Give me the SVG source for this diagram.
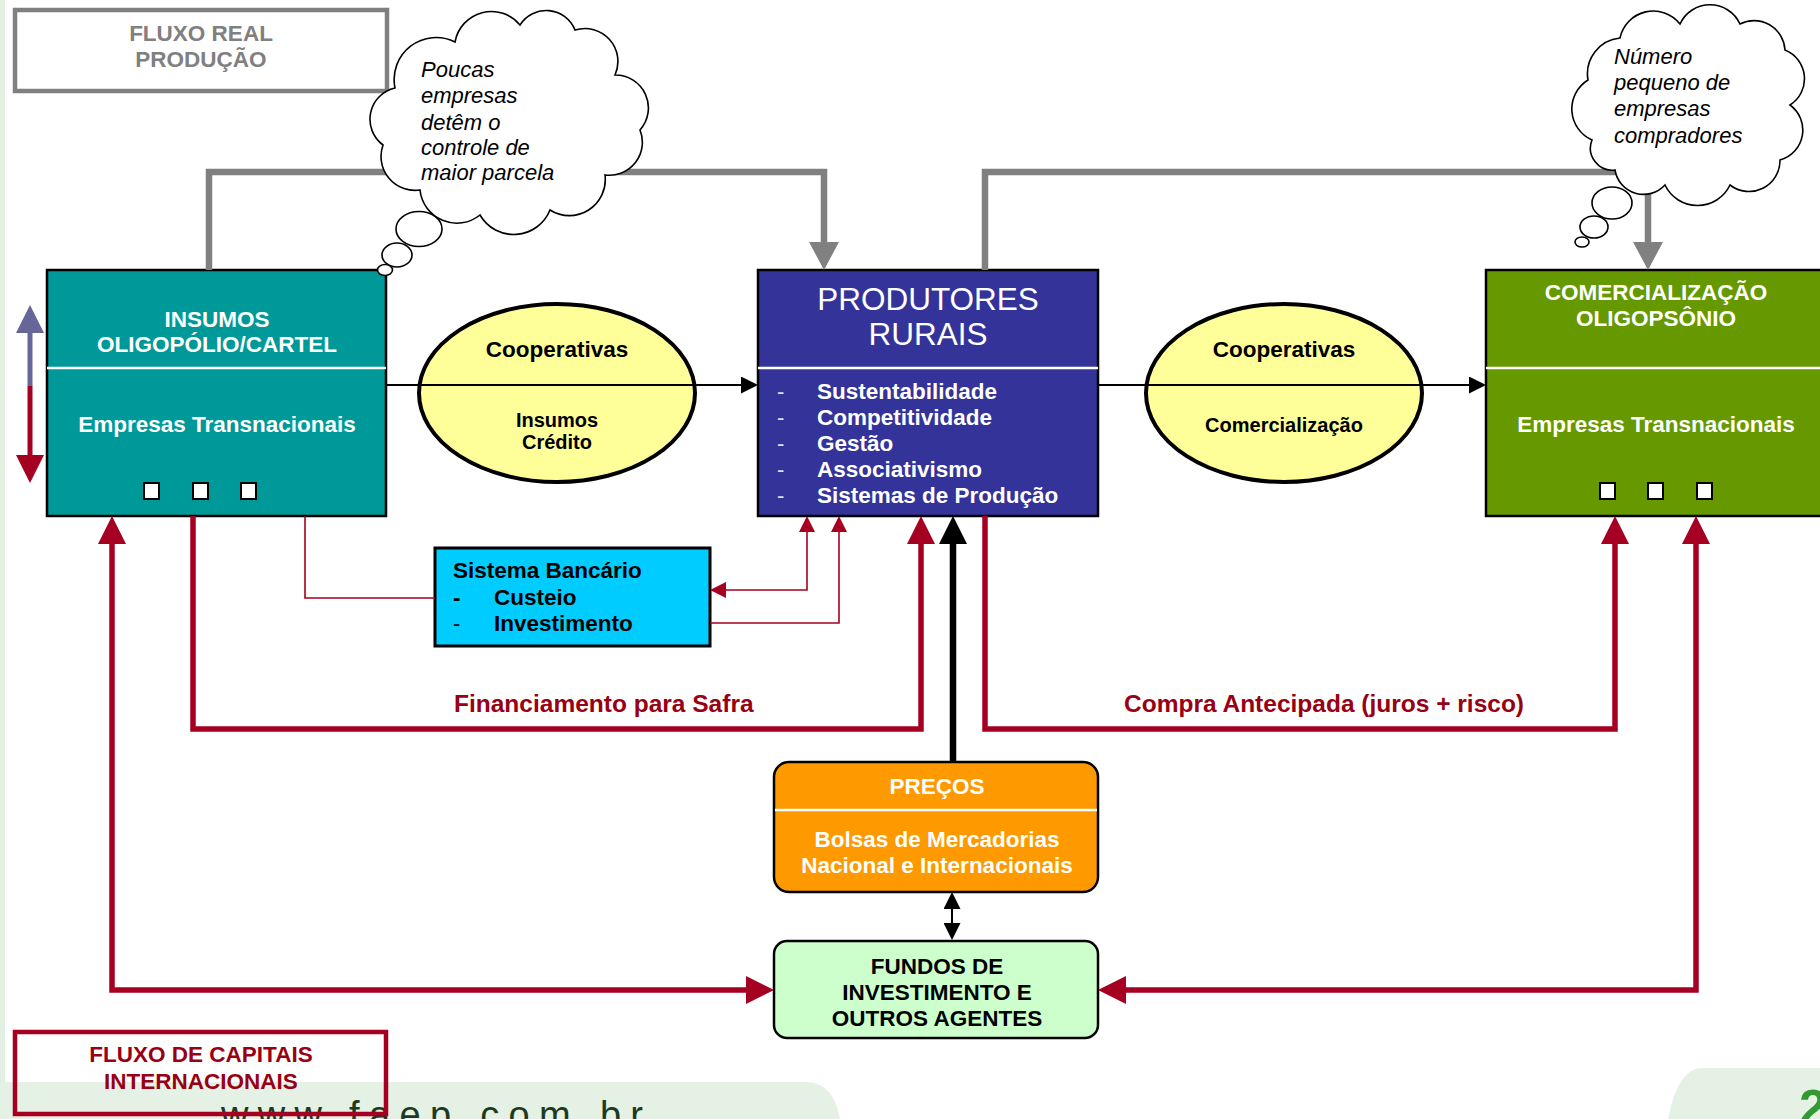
<svg xmlns="http://www.w3.org/2000/svg" width="1820" height="1119" viewBox="0 0 1820 1119">
<style>
text{font-family:"Liberation Sans",Arial,sans-serif;}
.b{font-weight:bold;font-size:22.5px;}
.w{fill:#ffffff;}
.k{fill:#000000;}
.c{text-anchor:middle;}
.box{stroke:#000;stroke-width:2.5;}
.div{stroke:#fff;stroke-width:2.5;}
.sq{fill:#fff;stroke:#000;stroke-width:2;}
.cloud{fill:#fff;stroke:#000;stroke-width:1.6;}
.ct{font-style:italic;font-size:22px;fill:#000;}
.gray{fill:none;stroke:#808080;stroke-width:6.5;}
.redT{fill:none;stroke:#A50021;stroke-width:5.5;}
.redt{fill:none;stroke:#A50021;stroke-width:1.6;}
.blkT{fill:none;stroke:#000;stroke-width:6.5;}
.blkt{fill:none;stroke:#000;stroke-width:2;}
.lbl{font-weight:bold;font-size:24.5px;fill:#990012;}
</style>
<defs>
<marker id="mGray" viewBox="0 0 28 30" refX="0" refY="15" markerWidth="28" markerHeight="30" markerUnits="userSpaceOnUse" orient="auto"><path d="M0,0 L28,15 L0,30 Z" fill="#808080"/></marker>
<marker id="mRed" viewBox="0 0 28 28" refX="0" refY="14" markerWidth="28" markerHeight="28" markerUnits="userSpaceOnUse" orient="auto-start-reverse"><path d="M0,0 L28,14 L0,28 Z" fill="#A50021"/></marker>
<marker id="mBlue" viewBox="0 0 28 28" refX="0" refY="14" markerWidth="28" markerHeight="28" markerUnits="userSpaceOnUse" orient="auto"><path d="M0,0 L28,14 L0,28 Z" fill="#666699"/></marker>
<marker id="mBlack" viewBox="0 0 28 28" refX="0" refY="14" markerWidth="28" markerHeight="28" markerUnits="userSpaceOnUse" orient="auto"><path d="M0,0 L28,14 L0,28 Z" fill="#000"/></marker>
<marker id="mRedS" viewBox="0 0 16 16" refX="0" refY="8" markerWidth="16" markerHeight="16" markerUnits="userSpaceOnUse" orient="auto-start-reverse"><path d="M0,0 L16,8 L0,16 Z" fill="#A50021"/></marker>
<marker id="mBlackS" viewBox="0 0 17 17" refX="0" refY="8.5" markerWidth="17" markerHeight="17" markerUnits="userSpaceOnUse" orient="auto-start-reverse"><path d="M0,0 L17,8.5 L0,17 Z" fill="#000"/></marker>
</defs>

<rect x="0" y="0" width="1820" height="1119" fill="#ffffff"/>
<g id="background">
<rect x="0" y="0" width="5" height="1119" fill="#E3EFE3"/>
<path d="M0,1082 H805 Q834,1082 840,1119 H0 Z" fill="#E4F1E4"/>
<path d="M1702,1068 H1820 V1119 H1668 Q1678,1068 1702,1068 Z" fill="#E4F1E4"/>
<text x="221" y="1128" font-family="DejaVu Sans,sans-serif" font-size="38" fill="#1E3A1E" textLength="422" lengthAdjust="spacing">www.faep.com.br</text>
<text x="1799" y="1125" font-size="50" font-weight="bold" fill="#339933">2</text>
</g>

<g id="fluxo-real">
<rect x="15" y="10" width="372" height="81" fill="none" stroke="#808080" stroke-width="4.5"/>
<text class="b c" x="201" y="41" fill="#808080">FLUXO REAL</text>
<text class="b c" x="201" y="67" fill="#808080">PRODUÇÃO</text>
</g>

<g id="insumos">
<rect class="box" x="47" y="270" width="339" height="246" fill="#009999"/>
<line class="div" x1="47" y1="368" x2="386" y2="368"/>
<text class="b w c" x="217" y="327">INSUMOS</text>
<text class="b w c" x="217" y="352">OLIGOPÓLIO/CARTEL</text>
<text class="b w c" x="217" y="432">Empresas Transnacionais</text>
<rect class="sq" x="144" y="483" width="15" height="16"/>
<rect class="sq" x="193" y="483" width="15" height="16"/>
<rect class="sq" x="241" y="483" width="15" height="16"/>
</g>

<g id="coop-insumos">
<ellipse cx="557" cy="393" rx="138" ry="89" fill="#FFFF99" stroke="#000" stroke-width="4"/>
<text class="b k c" x="557" y="357">Cooperativas</text>
<text class="k c" x="557" y="427" font-weight="bold" font-size="20">Insumos</text>
<text class="k c" x="557" y="449" font-weight="bold" font-size="20">Crédito</text>
</g>

<g id="produtores">
<rect class="box" x="758" y="270" width="340" height="246" fill="#333399"/>
<line class="div" x1="758" y1="368" x2="1098" y2="368"/>
<text class="w c" x="928" y="310" font-size="31.5">PRODUTORES</text>
<text class="w c" x="928" y="345" font-size="31.5">RURAIS</text>
<g font-size="22" fill="#e0e0e0"><text x="777" y="399">-</text><text x="777" y="425">-</text><text x="777" y="451">-</text><text x="777" y="477">-</text><text x="777" y="503">-</text></g>
<text class="b w" x="817" y="399">Sustentabilidade</text>
<text class="b w" x="817" y="425">Competitividade</text>
<text class="b w" x="817" y="451">Gestão</text>
<text class="b w" x="817" y="477">Associativismo</text>
<text class="b w" x="817" y="503">Sistemas de Produção</text>
</g>

<g id="coop-comercializacao">
<ellipse cx="1284" cy="393" rx="138" ry="89" fill="#FFFF99" stroke="#000" stroke-width="4"/>
<text class="b k c" x="1284" y="357">Cooperativas</text>
<text class="k c" x="1284" y="432" font-weight="bold" font-size="20">Comercialização</text>
</g>

<g id="comercializacao">
<rect class="box" x="1486" y="270" width="345" height="246" fill="#669900"/>
<line class="div" x1="1486" y1="368" x2="1820" y2="368"/>
<text class="b w c" x="1656" y="300">COMERCIALIZAÇÃO</text>
<text class="b w c" x="1656" y="326">OLIGOPSÔNIO</text>
<text class="b w c" x="1656" y="432">Empresas Transnacionais</text>
<rect class="sq" x="1600" y="483" width="15" height="16"/>
<rect class="sq" x="1648" y="483" width="15" height="16"/>
<rect class="sq" x="1697" y="483" width="15" height="16"/>
</g>

<g id="sistema-bancario">
<rect x="435" y="548" width="275" height="98" fill="#00CCFF" stroke="#000" stroke-width="3"/>
<text class="b k" x="453" y="578">Sistema Bancário</text>
<text class="b k" x="453" y="605">-</text>
<text class="b k" x="494" y="605">Custeio</text>
<text class="k" x="453" y="631" font-size="22">-</text>
<text class="b k" x="494" y="631">Investimento</text>
</g>

<g id="precos">
<rect class="box" x="774" y="762" width="324" height="130" rx="15" fill="#FF9900" stroke-width="2"/>
<line class="div" x1="775" y1="810" x2="1097" y2="810"/>
<text class="b w c" x="937" y="794">PREÇOS</text>
<text class="b w c" x="937" y="847">Bolsas de Mercadorias</text>
<text class="b w c" x="937" y="873">Nacional e Internacionais</text>
</g>

<g id="fundos">
<rect class="box" x="774" y="941" width="324" height="97" rx="13" fill="#CCFFCC" stroke-width="2"/>
<text class="b k c" x="937" y="974">FUNDOS DE</text>
<text class="b k c" x="937" y="1000">INVESTIMENTO E</text>
<text class="b k c" x="937" y="1026">OUTROS AGENTES</text>
</g>

<g id="fluxo-capitais">
<rect x="15" y="1032" width="371" height="82" fill="none" stroke="#A50021" stroke-width="4.5"/>
<text class="b c" x="201" y="1062" fill="#990012">FLUXO DE CAPITAIS</text>
<text class="b c" x="201" y="1089" fill="#990012">INTERNACIONAIS</text>
</g>

<g id="connectors">
<path class="gray" d="M209,270 V172 H824 V242" marker-end="url(#mGray)"/>
<path class="gray" d="M985,270 V172 H1648 V242" marker-end="url(#mGray)"/>
<path class="blkt" d="M387,385 H741" marker-end="url(#mBlackS)"/>
<path class="blkt" d="M1098,385 H1469" marker-end="url(#mBlackS)"/>
<path d="M30,386 V333" fill="none" stroke="#666699" stroke-width="5" marker-end="url(#mBlue)"/>
<path d="M30,386 V455" fill="none" stroke="#A50021" stroke-width="5" marker-end="url(#mRed)"/>
<path class="redt" d="M305,516 V598 H435"/>
<path class="redt" d="M807,532 V590 H726" marker-start="url(#mRedS)" marker-end="url(#mRedS)"/>
<path class="redt" d="M710,623 H839 V532" marker-end="url(#mRedS)"/>
<path class="redT" d="M193,516 V729 H921 V544" marker-end="url(#mRed)"/>
<path class="redT" d="M985,516 V729 H1615 V544" marker-end="url(#mRed)"/>
<path class="blkT" d="M953,762 V544" marker-end="url(#mBlack)"/>
<path class="blkt" d="M952,909 V923" marker-start="url(#mBlackS)" marker-end="url(#mBlackS)"/>
<path class="redT" d="M112,544 V990 H746" marker-start="url(#mRed)" marker-end="url(#mRed)"/>
<path class="redT" d="M1696,544 V990 H1126" marker-start="url(#mRed)" marker-end="url(#mRed)"/>
<text class="lbl" x="454" y="712">Financiamento para Safra</text>
<text class="lbl c" x="1324" y="712">Compra Antecipada (juros + risco)</text>
</g>

<g id="cloud-poucas">
<path class="cloud" d="M383,145 A32,32 0 0 1 395,88 A42,42 0 0 1 455,42 A37,37 0 0 1 520,25 A31,31 0 0 1 575,30 A33,33 0 0 1 615,75 A33,33 0 0 1 640,130 A33,33 0 0 1 605,175 A36,36 0 0 1 550,210 A39,39 0 0 1 480,215 A37,37 0 0 1 420,190 A34,34 0 0 1 383,145 Z"/>
<ellipse class="cloud" cx="419" cy="229" rx="23" ry="17.5"/>
<ellipse class="cloud" cx="397" cy="255" rx="15" ry="12"/>
<ellipse class="cloud" cx="385" cy="270" rx="7.5" ry="5.5"/>
<text class="ct" x="421" y="77">Poucas</text>
<text class="ct" x="421" y="103">empresas</text>
<text class="ct" x="421" y="130">detêm o</text>
<text class="ct" x="421" y="155">controle de</text>
<text class="ct" x="421" y="180">maior parcela</text>
</g>

<g id="cloud-numero">
<path class="cloud" d="M1592,140 A34,34 0 0 1 1588,80 A36,36 0 0 1 1620,38 A34,34 0 0 1 1680,24 A33,33 0 0 1 1740,24 A31,31 0 0 1 1785,50 A31,31 0 0 1 1790,105 A31,31 0 0 1 1780,160 A31,31 0 0 1 1730,185 A36,36 0 0 1 1665,185 A29,29 0 0 1 1615,170 A22,22 0 0 1 1592,140 Z"/>
<ellipse class="cloud" cx="1612" cy="203" rx="20" ry="16"/>
<ellipse class="cloud" cx="1594" cy="227" rx="14" ry="11"/>
<ellipse class="cloud" cx="1582" cy="242" rx="7" ry="5"/>
<text class="ct" x="1614" y="64">Número</text>
<text class="ct" x="1614" y="90">pequeno de</text>
<text class="ct" x="1614" y="116">empresas</text>
<text class="ct" x="1614" y="143">compradores</text>
</g>
</svg>
